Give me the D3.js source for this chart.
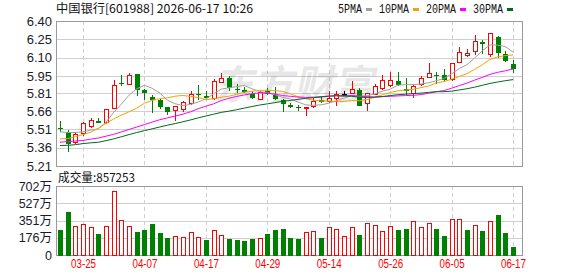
<!DOCTYPE html>
<html>
<head>
<meta charset="utf-8">
<script src="https://cdn.jsdelivr.net/npm/d3@7"></script>
<style>
  body { margin: 0; background: #fff; }
  svg { display: block; }
</style>
</head>
<body>
<div id="chart"></div>
<script>
// ---- data ----
var dates = ["03-20","03-23","03-24","03-25","03-26","03-27","03-30","03-31","04-01","04-02",
  "04-03","04-07","04-08","04-09","04-10","04-13","04-14","04-15","04-16","04-17",
  "04-20","04-21","04-22","04-23","04-24","04-27","04-28","04-29","04-30","05-06",
  "05-07","05-08","05-11","05-12","05-13","05-14","05-15","05-18","05-19","05-20",
  "05-21","05-22","05-25","05-26","05-27","05-28","05-29","06-01","06-02","06-03",
  "06-04","06-05","06-08","06-09","06-10","06-11","06-12","06-15","06-16","06-17"];

var openP = [5.525,5.487,5.40,5.474,5.536,5.578,5.564,5.678,5.895,5.882,
  5.961,5.830,5.779,5.748,5.691,5.664,5.670,5.719,5.802,5.782,
  5.768,5.899,5.931,5.846,5.832,5.801,5.754,5.825,5.79,5.754,
  5.71,5.698,5.684,5.699,5.754,5.740,5.768,5.797,5.809,5.836,
  5.721,5.795,5.844,5.87,5.909,5.842,5.809,5.877,5.936,5.96,
  5.958,5.918,6.062,6.114,6.15,6.231,6.128,6.267,6.13,6.046];

var highP = [5.582,5.509,5.49,5.572,5.604,5.604,5.678,5.915,5.958,5.972,
  5.963,5.846,5.79,5.762,5.695,5.70,5.746,5.828,5.877,5.822,
  5.923,5.972,5.95,5.882,5.855,5.822,5.822,5.85,5.86,5.76,
  5.727,5.713,5.696,5.768,5.781,5.826,5.822,5.828,5.909,5.850,
  5.809,5.882,5.956,5.985,5.98,5.936,5.877,5.95,6.054,5.98,
  6.005,6.054,6.19,6.17,6.286,6.245,6.30,6.28,6.15,6.081];

var lowP = [5.487,5.323,5.39,5.454,5.523,5.574,5.558,5.678,5.863,5.871,
  5.787,5.754,5.645,5.678,5.631,5.582,5.656,5.713,5.754,5.754,
  5.754,5.899,5.828,5.809,5.809,5.762,5.748,5.79,5.75,5.652,
  5.686,5.665,5.617,5.690,5.727,5.727,5.705,5.781,5.80,5.705,
  5.664,5.795,5.836,5.862,5.863,5.781,5.768,5.863,5.931,5.882,
  5.904,5.904,6.054,6.108,6.12,6.128,6.108,6.095,6.067,5.977];

var closeP = [5.52,5.394,5.470,5.555,5.580,5.574,5.670,5.874,5.891,5.950,
  5.836,5.809,5.752,5.694,5.653,5.697,5.735,5.795,5.797,5.777,
  5.904,5.931,5.850,5.842,5.828,5.768,5.817,5.805,5.76,5.716,
  5.703,5.690,5.692,5.740,5.735,5.768,5.795,5.797,5.836,5.705,
  5.803,5.863,5.912,5.915,5.871,5.828,5.863,5.931,5.972,5.955,
  5.918,6.054,6.144,6.136,6.23,6.209,6.30,6.136,6.073,6.008];

var prevClose = 5.53;

var volume = [2540000,4400000,2950000,3150000,2750000,2140000,2850000,6510000,3460000,2950000,
  2340000,2540000,3150000,2240000,1730000,1930000,1830000,2340000,1830000,1530000,
  2540000,2030000,1630000,1530000,1420000,1630000,1630000,2140000,2540000,2640000,
  1730000,1630000,2240000,2440000,1730000,2750000,2640000,1930000,2750000,2030000,
  3250000,3050000,2440000,2950000,2540000,2640000,3360000,2750000,3250000,2640000,
  1930000,3660000,3660000,2540000,3050000,2440000,3360000,4070000,2240000,857253];

var ma5 = [5.49,5.485,5.485,5.49,5.504,5.515,5.570,5.651,5.718,5.792,
  5.844,5.872,5.848,5.808,5.749,5.721,5.706,5.715,5.735,5.760,
  5.802,5.841,5.852,5.861,5.871,5.844,5.821,5.812,5.796,5.773,
  5.760,5.735,5.712,5.708,5.712,5.725,5.746,5.767,5.786,5.780,
  5.787,5.801,5.824,5.840,5.873,5.878,5.878,5.882,5.893,5.910,
  5.928,5.966,6.009,6.041,6.096,6.155,6.204,6.202,6.190,6.145];

var ma10 = [5.433,5.435,5.45,5.468,5.487,5.52,5.56,5.596,5.628,5.655,
  5.685,5.725,5.749,5.763,5.770,5.783,5.789,5.781,5.772,5.755,
  5.761,5.774,5.783,5.798,5.816,5.823,5.831,5.832,5.828,5.822,
  5.802,5.778,5.762,5.752,5.743,5.743,5.740,5.740,5.747,5.746,
  5.756,5.773,5.795,5.813,5.827,5.833,5.839,5.853,5.866,5.891,
  5.903,5.922,5.945,5.967,6.003,6.041,6.085,6.105,6.116,6.121];

var ma20 = [5.405,5.41,5.415,5.42,5.43,5.44,5.455,5.47,5.49,5.51,
  5.53,5.55,5.57,5.59,5.605,5.62,5.635,5.655,5.68,5.701,
  5.720,5.747,5.766,5.781,5.793,5.803,5.810,5.807,5.800,5.788,
  5.782,5.776,5.773,5.775,5.779,5.783,5.786,5.786,5.788,5.784,
  5.779,5.776,5.779,5.782,5.785,5.788,5.790,5.796,5.807,5.819,
  5.829,5.848,5.870,5.890,5.915,5.937,5.962,5.979,5.991,6.006];

var ma30 = [5.378,5.38,5.385,5.394,5.40,5.405,5.418,5.433,5.45,5.468,
  5.485,5.50,5.515,5.53,5.545,5.558,5.573,5.588,5.605,5.62,
  5.635,5.65,5.66,5.672,5.685,5.698,5.71,5.72,5.73,5.741,
  5.748,5.757,5.765,5.771,5.776,5.783,5.787,5.784,5.782,5.774,
  5.773,5.775,5.780,5.788,5.795,5.799,5.804,5.808,5.814,5.820,
  5.820,5.824,5.834,5.844,5.857,5.872,5.888,5.899,5.910,5.919];

var dateTicks = ["03-25","04-07","04-17","04-29","05-14","05-26","06-05","06-17"];
var priceTicks = [5.21,5.36,5.51,5.66,5.81,5.95,6.10,6.25,6.40];
var volTicks = [0,1755000,3510000,5265000,7020000];
var maNames = ["5PMA","10PMA","20PMA","30PMA"];
var maColors = ["#a0a0a0","#f5a300","#ff00ff","#006a1e"];

var titleText = "中国银行[601988] 2026-06-17 10:26";
var volTitle = "成交量:857253";

// ---- layout ----
var width = 578, height = 276,
  left = 56, right = 522,
  pTop = 21, pBot = 166,
  vTop = 186, vBot = 255,
  RED = "#ff0000", GREEN = "#008000";

var svg = d3.select("#chart").append("svg")
  .attr("width", width).attr("height", height)
  .style("font-family", "'Liberation Sans', Arial, sans-serif");

var x = d3.scalePoint().domain(dates).range([60, 513]);
var y = d3.scaleLinear().domain([5.21, 6.40]).range([pBot, pTop]);
var yv = d3.scaleLinear().domain([0, 7020000]).range([vBot, vTop]);

var crisp = function (v) { return Math.round(v) + 0.5; };

// ---- grids ----
var grid = svg.append("g").attr("shape-rendering", "crispEdges");
grid.selectAll(".hp").data(priceTicks).enter().append("line")
  .attr("x1", left).attr("x2", right)
  .attr("y1", d => crisp(y(d))).attr("y2", d => crisp(y(d)))
  .attr("stroke", "#cfcfcf");
grid.selectAll(".hv").data(volTicks).enter().append("line")
  .attr("x1", left).attr("x2", right)
  .attr("y1", d => crisp(yv(d))).attr("y2", d => crisp(yv(d)))
  .attr("stroke", "#cfcfcf");
[[pTop, pBot], [vTop, vBot]].forEach(function (r) {
  grid.selectAll(null).data(dateTicks).enter().append("line")
    .attr("x1", d => crisp(x(d))).attr("x2", d => crisp(x(d)))
    .attr("y1", r[0]).attr("y2", r[1])
    .attr("stroke", "#cfcfcf").attr("stroke-dasharray", "4,3");
});

// watermark
svg.append("text")
  .attr("x", 295).attr("y", 99)
  .attr("text-anchor", "middle")
  .attr("transform", "skewX(-12) translate(20,0)")
  .style("font-family", "'Noto Sans CJK SC', sans-serif")
  .style("font-size", "40px").style("font-weight", "bold")
  .attr("fill", "#000").attr("opacity", 0.09)
  .text("东方财富");

// panel borders
[[pTop, pBot], [vTop, vBot]].forEach(function (r) {
  svg.append("rect")
    .attr("x", left + 0.5).attr("y", r[0] + 0.5)
    .attr("width", right - left).attr("height", r[1] - r[0])
    .attr("fill", "none").attr("stroke", "#9a9a9a")
    .attr("shape-rendering", "crispEdges");
});

// ---- candles ----
var candles = svg.append("g").attr("shape-rendering", "crispEdges");
dates.forEach(function (d, i) {
  var o = openP[i], c = closeP[i], h = highP[i], l = lowP[i];
  var cx = Math.round(x(d)) + 0.5;
  var col = c > o ? RED : (c < o ? GREEN : "#000");
  var top = y(Math.max(o, c)), bot = y(Math.min(o, c));
  var g = candles.append("g");
  if (c > o) {
    g.append("line").attr("x1", cx).attr("x2", cx)
      .attr("y1", y(h)).attr("y2", top).attr("stroke", col);
    g.append("line").attr("x1", cx).attr("x2", cx)
      .attr("y1", bot).attr("y2", y(l)).attr("stroke", col);
    g.append("rect").attr("x", cx - 2).attr("y", top)
      .attr("width", 4).attr("height", Math.max(1, bot - top))
      .attr("fill", "#fff").attr("stroke", col);
  } else {
    g.append("line").attr("x1", cx).attr("x2", cx)
      .attr("y1", y(h)).attr("y2", y(l)).attr("stroke", col);
    g.append("rect").attr("x", cx - 2.5).attr("y", top)
      .attr("width", 5).attr("height", Math.max(1.5, bot - top))
      .attr("fill", col);
  }
});

// ---- moving averages ----
var line = d3.line().x((v, i) => x(dates[i])).y(v => y(v));
[ma5, ma10, ma20, ma30].forEach(function (s, k) {
  svg.append("path").datum(s)
    .attr("d", line)
    .attr("fill", "none")
    .attr("stroke", maColors[k])
    .attr("stroke-width", 1);
});

// ---- volume ----
var vols = svg.append("g").attr("shape-rendering", "crispEdges");
dates.forEach(function (d, i) {
  var ref = i === 0 ? prevClose : closeP[i - 1];
  var up = closeP[i] >= ref;
  var cx = Math.round(x(d)) + 0.5;
  if (up) {
    vols.append("rect").attr("x", cx - 2).attr("y", yv(volume[i]))
      .attr("width", 4).attr("height", vBot - yv(volume[i]))
      .attr("fill", "#fff").attr("stroke", RED);
  } else {
    vols.append("rect").attr("x", cx - 2.5).attr("y", yv(volume[i]))
      .attr("width", 5).attr("height", vBot - yv(volume[i]) + 0.5)
      .attr("fill", GREEN);
  }
});

// ---- axes ----
var yAxis = svg.append("g")
  .attr("transform", "translate(" + left + ",0)")
  .call(d3.axisLeft(y).tickValues(priceTicks).tickFormat(d3.format(".2f")).tickSize(0).tickPadding(4));
yAxis.select(".domain").remove();
yAxis.selectAll("text").style("font-size", "13px").style("font-family", "'Liberation Sans', Arial, sans-serif").attr("fill", "#1a1a2a");

var vAxis = svg.append("g")
  .attr("transform", "translate(" + left + ",0)")
  .call(d3.axisLeft(yv).tickValues(volTicks)
    .tickFormat(v => v === 0 ? "0" : Math.round(v / 10000) + "万")
    .tickSize(0).tickPadding(4));
vAxis.select(".domain").remove();
vAxis.selectAll("text").style("font-size", "12.5px").style("font-family", "'Liberation Sans', Arial, 'Noto Sans CJK SC', sans-serif").attr("fill", "#1a1a2a");

var xAxis = svg.append("g")
  .attr("transform", "translate(0," + vBot + ")")
  .call(d3.axisBottom(x).tickValues(dateTicks).tickSize(0).tickPadding(4));
xAxis.select(".domain").remove();
xAxis.selectAll("text")
  .style("font-size", "12px")
  .style("font-family", "'Liberation Sans', Arial, sans-serif")
  .attr("fill", RED)
  .attr("textLength", 25).attr("lengthAdjust", "spacingAndGlyphs");

// ---- titles ----
svg.append("text")
  .attr("x", 56).attr("y", 13)
  .style("font-family", "'Noto Sans CJK SC', sans-serif")
  .style("font-size", "12px")
  .attr("fill", "#111")
  .attr("textLength", 197).attr("lengthAdjust", "spacingAndGlyphs")
  .text(titleText);

svg.append("text")
  .attr("x", 58).attr("y", 182)
  .style("font-family", "'Noto Sans CJK SC', sans-serif")
  .style("font-size", "12px")
  .attr("fill", "#111")
  .attr("textLength", 77).attr("lengthAdjust", "spacingAndGlyphs")
  .text(volTitle);

// ---- legend ----
var lx = 338;
maNames.forEach(function (name, k) {
  var tw = name.length * 6;
  svg.append("text")
    .attr("x", lx).attr("y", 13)
    .style("font-family", "'Liberation Mono', monospace")
    .style("font-size", "12px")
    .attr("fill", "#111")
    .attr("textLength", tw).attr("lengthAdjust", "spacingAndGlyphs")
    .text(name);
  svg.append("rect")
    .attr("x", lx + tw + 4).attr("y", 8)
    .attr("width", 6).attr("height", 3)
    .attr("fill", maColors[k]);
  lx += tw + 4 + 6 + 7;
});
</script>
</body>
</html>
